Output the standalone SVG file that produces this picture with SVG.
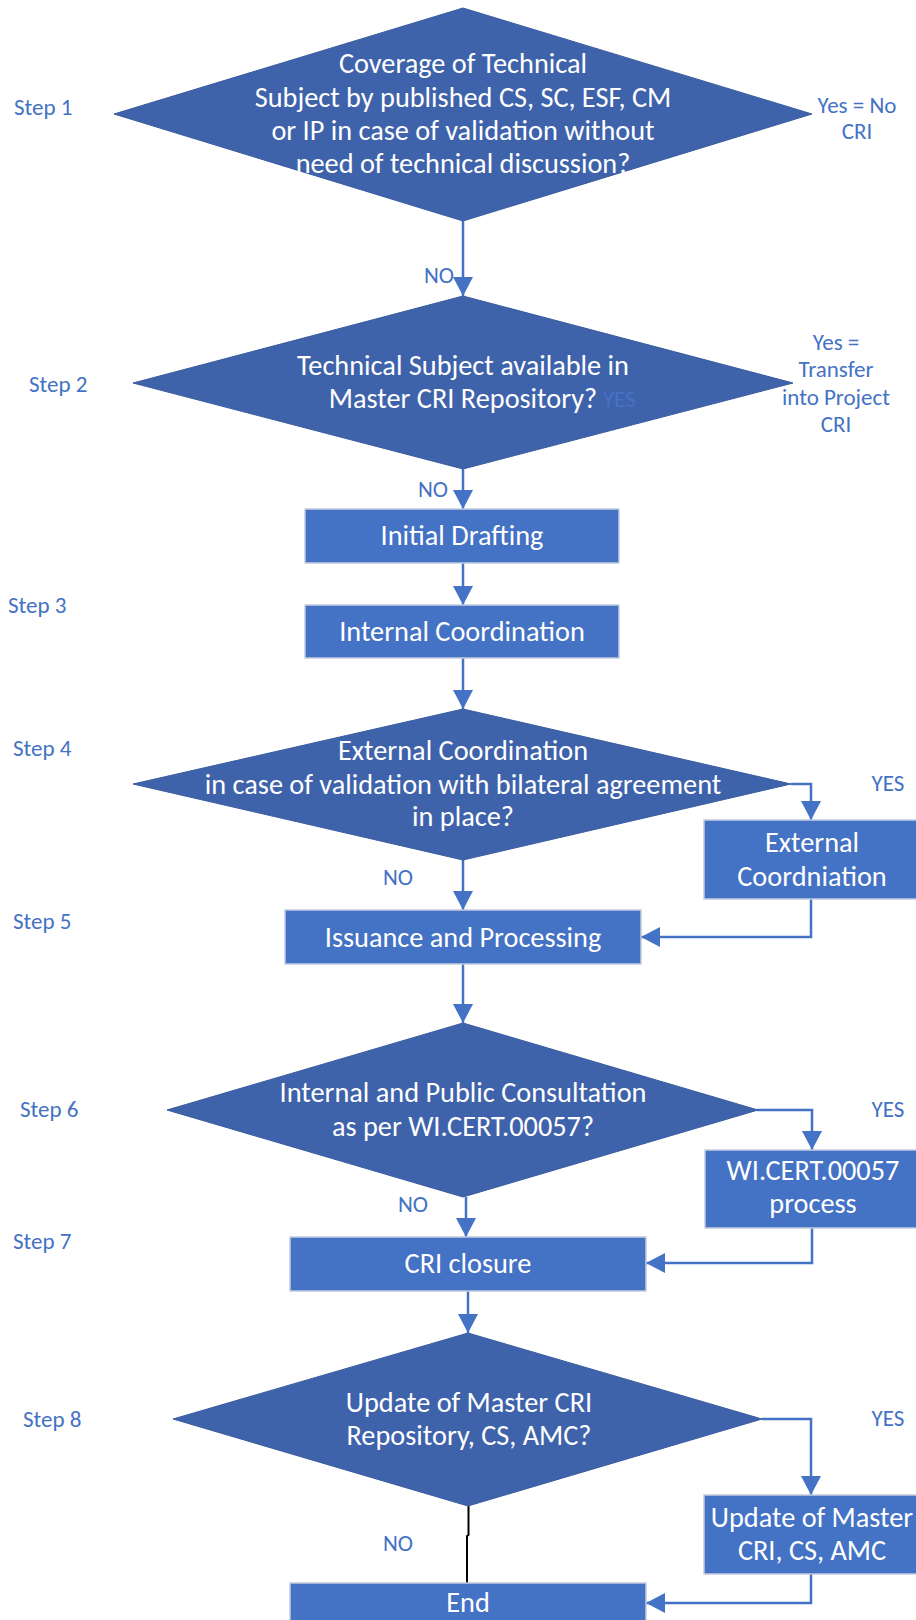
<svg xmlns="http://www.w3.org/2000/svg" width="916" height="1620" viewBox="0 0 916 1620">
<style>
text{font-family:Carlito,"Liberation Sans Narrow","Liberation Sans",sans-serif}
.dm{fill:#3F63AB;stroke:#3A5C9F;stroke-width:1}
.bx{fill:#4472C4;stroke:#C3CCDD;stroke-width:1.5}
.t{fill:#FFFFFF;font-size:28.3px;text-anchor:middle}
.lb{fill:#4472C4;font-size:23px}
.lc{fill:#4472C4;font-size:23px;text-anchor:middle}
.cn{fill:none;stroke:#4472C4;stroke-width:2.5;marker-end:url(#ah)}
</style>
<defs>
<marker id="ah" markerUnits="userSpaceOnUse" markerWidth="20" markerHeight="20" viewBox="0 0 20 20" refX="19" refY="10" orient="auto">
<path d="M0,0 L19,10 L0,20 Z" fill="#4472C4"/>
</marker>
</defs>
<rect width="916" height="1620" fill="#FFFFFF"/>

<g id="labels">
<text class="lb" x="14" y="115">Step 1</text>
<text class="lc" x="857" y="113">Yes = No</text>
<text class="lc" x="857" y="139">CRI</text>
<text class="lb" x="29" y="392">Step 2</text>
<text class="lc" x="836" y="350">Yes =</text>
<text class="lc" x="836" y="377">Transfer</text>
<text class="lc" x="836" y="405">into Project</text>
<text class="lc" x="836" y="432">CRI</text>
<text class="lb" x="8" y="613">Step 3</text>
<text class="lb" x="13" y="756">Step 4</text>
<text class="lb" x="13" y="929">Step 5</text>
<text class="lb" x="20" y="1117">Step 6</text>
<text class="lb" x="13" y="1249">Step 7</text>
<text class="lb" x="23" y="1427">Step 8</text>
</g>

<g id="connectors">
<line class="cn" x1="463" y1="221" x2="463" y2="296"/>
<line class="cn" x1="463" y1="469" x2="463" y2="509"/>
<line class="cn" x1="463" y1="563" x2="463" y2="605"/>
<line class="cn" x1="463" y1="658" x2="463" y2="709"/>
<polyline class="cn" points="791,784 811,784 811,820"/>
<line class="cn" x1="463" y1="860" x2="463" y2="910"/>
<polyline class="cn" points="811,899 811,937 641,937"/>
<line class="cn" x1="463" y1="964" x2="463" y2="1023"/>
<polyline class="cn" points="757,1110 812,1110 812,1150"/>
<line class="cn" x1="466" y1="1197" x2="466" y2="1237"/>
<polyline class="cn" points="812,1228 812,1263 646,1263"/>
<line class="cn" x1="468" y1="1291" x2="468" y2="1333"/>
<polyline class="cn" points="762,1419 811,1419 811,1495"/>
<polyline fill="none" stroke="#000000" stroke-width="2" points="468.5,1506 468.5,1535 467,1536 467,1583"/>
<polyline class="cn" points="811,1574 811,1603 646,1603"/>
<text class="lc" x="439" y="283">NO</text>
<text class="lc" x="433" y="497">NO</text>
<text class="lc" x="888" y="791">YES</text>
<text class="lc" x="398" y="885">NO</text>
<text class="lc" x="888" y="1117">YES</text>
<text class="lc" x="413" y="1212">NO</text>
<text class="lc" x="888" y="1426">YES</text>
<text class="lc" x="398" y="1551">NO</text>
</g>

<g id="d1">
<polygon class="dm" points="463,8 812,114 463,221 114,114"/>
<text class="t" x="463" y="73">Coverage of Technical</text>
<text class="t" x="463" y="106.5">Subject by published CS, SC, ESF, CM</text>
<text class="t" x="463" y="140">or IP in case of validation without</text>
<text class="t" x="463" y="173">need of technical discussion?</text>
</g>

<g id="d2">
<polygon class="dm" points="463,296 793,383 463,469 133,383"/>
<text class="t" x="463" y="375">Technical Subject available in</text>
<text class="t" x="463" y="408">Master CRI Repository?</text>
<text class="lb" x="603" y="407">YES</text>
</g>

<g id="n-initial">
<rect class="bx" x="305" y="509" width="314" height="54"/>
<text class="t" x="462" y="545">Initial Drafting</text>
</g>

<g id="n-internal">
<rect class="bx" x="305" y="605" width="314" height="53"/>
<text class="t" x="462" y="641">Internal Coordination</text>
</g>

<g id="d3">
<polygon class="dm" points="463,709 791,784 463,860 133,784"/>
<text class="t" x="463" y="760">External Coordination</text>
<text class="t" x="463" y="794">in case of validation with bilateral agreement</text>
<text class="t" x="463" y="826">in place?</text>
</g>

<g id="n-external">
<rect class="bx" x="704" y="820" width="216" height="79"/>
<text class="t" x="812" y="852">External</text>
<text class="t" x="812" y="886">Coordniation</text>
</g>

<g id="n-issuance">
<rect class="bx" x="285" y="910" width="356" height="54"/>
<text class="t" x="463" y="947">Issuance and Processing</text>
</g>

<g id="d4">
<polygon class="dm" points="463,1023 758,1110 463,1197 167,1110"/>
<text class="t" x="463" y="1102">Internal and Public Consultation</text>
<text class="t" x="463" y="1136">as per WI.CERT.00057?</text>
</g>

<g id="n-wicert">
<rect class="bx" x="705" y="1150" width="216" height="78"/>
<text class="t" x="813" y="1180">WI.CERT.00057</text>
<text class="t" x="813" y="1213">process</text>
</g>

<g id="n-closure">
<rect class="bx" x="290" y="1237" width="356" height="54"/>
<text class="t" x="468" y="1273">CRI closure</text>
</g>

<g id="d5">
<polygon class="dm" points="468,1333 762,1419 468,1506 173,1419"/>
<text class="t" x="469" y="1412">Update of Master CRI</text>
<text class="t" x="469" y="1445">Repository, CS, AMC?</text>
</g>

<g id="n-update">
<rect class="bx" x="704" y="1495" width="216" height="79"/>
<text class="t" x="812" y="1527">Update of Master</text>
<text class="t" x="812" y="1560">CRI, CS, AMC</text>
</g>

<g id="n-end">
<rect class="bx" x="290" y="1583" width="356" height="54"/>
<text class="t" x="468" y="1612">End</text>
</g>
</svg>
